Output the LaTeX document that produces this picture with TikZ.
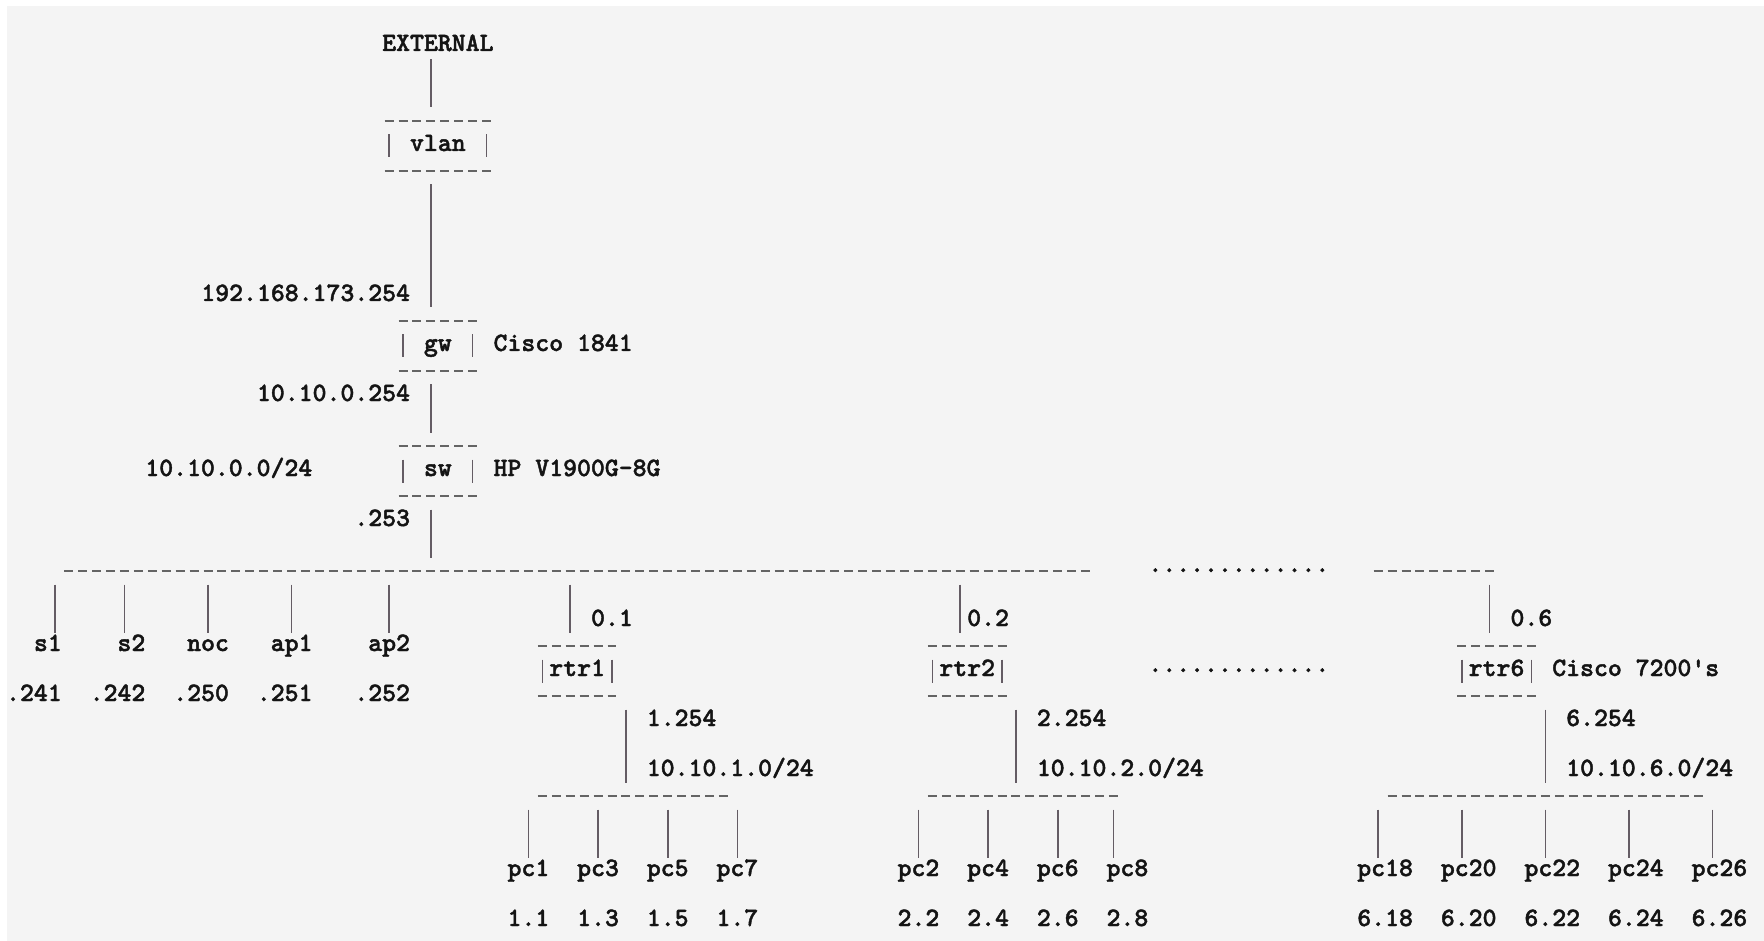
\documentclass[tikz,border=0pt]{standalone}
\usepackage{fontspec}
\usepackage{tikz}
\usetikzlibrary{positioning}

\newfontfamily\asciitt[FakeBold=1.6]{lmmonolt10-bold.otf}

\definecolor{bggray}{RGB}{244,244,244}
\definecolor{inkcol}{RGB}{20,20,20}
\definecolor{dashgray}{RGB}{100,100,100}
\definecolor{barcol}{RGB}{100,92,100}

\newcommand{\asciifont}{\fontsize{26.5pt}{26.5pt}\selectfont\asciitt}

\tikzset{
  txt/.style={font=\asciifont, text=inkcol, inner sep=0pt, outer sep=0pt, text height=10pt, text depth=0pt},
  bar/.style={draw=barcol, line width=1.6pt},
  dashline/.style={draw=dashgray, line width=2.6pt, dash pattern=on 9pt off 4.93pt},
  bus/.style={minimum width=#1*13.93pt, minimum height=0pt, inner sep=0pt, outer sep=0pt,
    append after command={([xshift=2.47pt]\tikzlastnode.west) edge[dashline] ([xshift=-2.47pt]\tikzlastnode.east)}},
  box/.style={txt, minimum width=#1*13.93pt, minimum height=50pt,
    append after command={
      ([xshift=2.47pt]\tikzlastnode.north west) edge[dashline] ([xshift=-2.47pt]\tikzlastnode.north east)
      ([xshift=2.47pt]\tikzlastnode.south west) edge[dashline] ([xshift=-2.47pt]\tikzlastnode.south east)
      ([shift={(0.5,-0.46)}]\tikzlastnode.west) edge[bar] ([shift={(0.5,0.46)}]\tikzlastnode.west)
      ([shift={(-0.5,-0.46)}]\tikzlastnode.east) edge[bar] ([shift={(-0.5,0.46)}]\tikzlastnode.east)}}
}

\begin{document}
\begin{tikzpicture}[x=13.93pt, y=-25pt]
  \useasboundingbox (-0.9332,-1.84) rectangle (125.70,35.80);
  \fill[white] (-0.9332,-1.84) rectangle (125.70,35.80);
  \fill[bggray] (-0.43,-1.6) rectangle (125.70,35.80);

  % uplink
  \node[txt] (ext) at (30.5,0) {EXTERNAL};
  \node[box=8] (vlan) at (30.5,4) {vlan};
  \node[txt, anchor=east] (wanip) at (28.5,10) {192.168.173.254};
  \node[box=6] (gw) at (30.5,12) {gw};
  \node[txt, right=13.93pt of gw] (gwmodel) {Cisco 1841};
  \node[txt, anchor=east] (gwip) at (28.5,14) {10.10.0.254};
  \node[box=6] (sw) at (30.5,17) {sw};
  \node[txt, right=13.93pt of sw] (swmodel) {HP V1900G-8G};
  \node[txt, anchor=west] (net0) at (9.5,17) {10.10.0.0/24};
  \node[txt, anchor=east] (swip) at (28.5,19) {.253};

  \draw[bar] ([shift={(-0.5,0.34)}]ext.south) -- ([shift={(-0.5,-0.54)}]vlan.north);
  \draw[bar] ([shift={(-0.5,0.54)}]vlan.south) -- ([shift={(-0.5,-0.54)}]gw.north);
  \draw[bar] ([shift={(-0.5,0.54)}]gw.south) -- ([shift={(-0.5,-0.54)}]sw.north);

  % server lan
  \node[bus=74] (lan) at (40.5,21) {};
  \node[txt, yshift=4pt] (gap1) at (88,21) {.............};
  \node[bus=9] (lanr) at (102,21) {};
  \draw[bar] ([shift={(-0.5,0.54)}]sw.south) -- ([shift={(-0.5,-0.54)}]sw.south |- lan);

  \foreach \dev/\ip/\e/\d in {s1/.241/3.5/-0.5, s2/.242/9.5/-1.5, noc/.250/15.5/-1.5, ap1/.251/21.5/-1.5, ap2/.252/28.5/-1.5} {
    \node[txt, anchor=east] (\dev) at (\e,24) {\dev};
    \node[txt, anchor=east] (\dev-ip) at (\e,26) {\ip};
    \draw[bar] ([shift={(\d,0.54)}]\dev.north east |- lan) -- ([shift={(\d,-0.34)}]\dev.north east);
  }

  % routers
  \foreach \k/\c/\ux/\sc/\sn/\up in {1/40.5/1/44.5/14/lan, 2/68.5/0/72.5/14/lan, 6/106.5/1/110/23/lanr} {
    \node[box=6] (rtr\k) at (\c,25) {rtr\k};
    \node[txt, anchor=west] (rtr\k-up) at ([shift={(\ux,-1)}]rtr\k.north) {0.\k};
    \node[txt, anchor=west] (rtr\k-ip) at ([shift={(5,1)}]rtr\k.south) {\k.254};
    \node[txt, anchor=west] (rtr\k-net) at ([shift={(5,3)}]rtr\k.south) {10.10.\k.0/24};
    \node[bus=\sn] (lan\k) at (\sc,30) {};
    \draw[bar] ([shift={(-0.5,0.54)}]rtr\k.north |- \up) -- ([shift={(-0.5,-0.54)}]rtr\k.north);
    \draw[bar] ([shift={(3.5,0.54)}]rtr\k.south) -- ([shift={(3.5,-0.54)}]rtr\k.south |- lan\k);
  }
  \node[txt, yshift=4pt] (gap2) at (88,25) {.............};
  \node[txt, right=13.93pt of rtr6] (rtrmodel) {Cisco 7200\textquotesingle s};

  % pcs
  \foreach \k/\p/\c/\d in {1/1/37/0, 1/3/42/0, 1/5/47/0, 1/7/52/0,
                           2/2/65/0, 2/4/70/0, 2/6/75/0, 2/8/80/-1,
                           6/18/98.5/-0.5, 6/20/104.5/-0.5, 6/22/110.5/-0.5, 6/24/116.5/-0.5, 6/26/122.5/-0.5} {
    \node[txt] (pc\p) at (\c,33) {pc\p};
    \node[txt] (pc\p-ip) at (\c,35) {\k.\p};
    \draw[bar] ([shift={(\d,0.54)}]pc\p.north |- lan\k) -- ([shift={(\d,-0.34)}]pc\p.north);
  }
\end{tikzpicture}
\end{document}
